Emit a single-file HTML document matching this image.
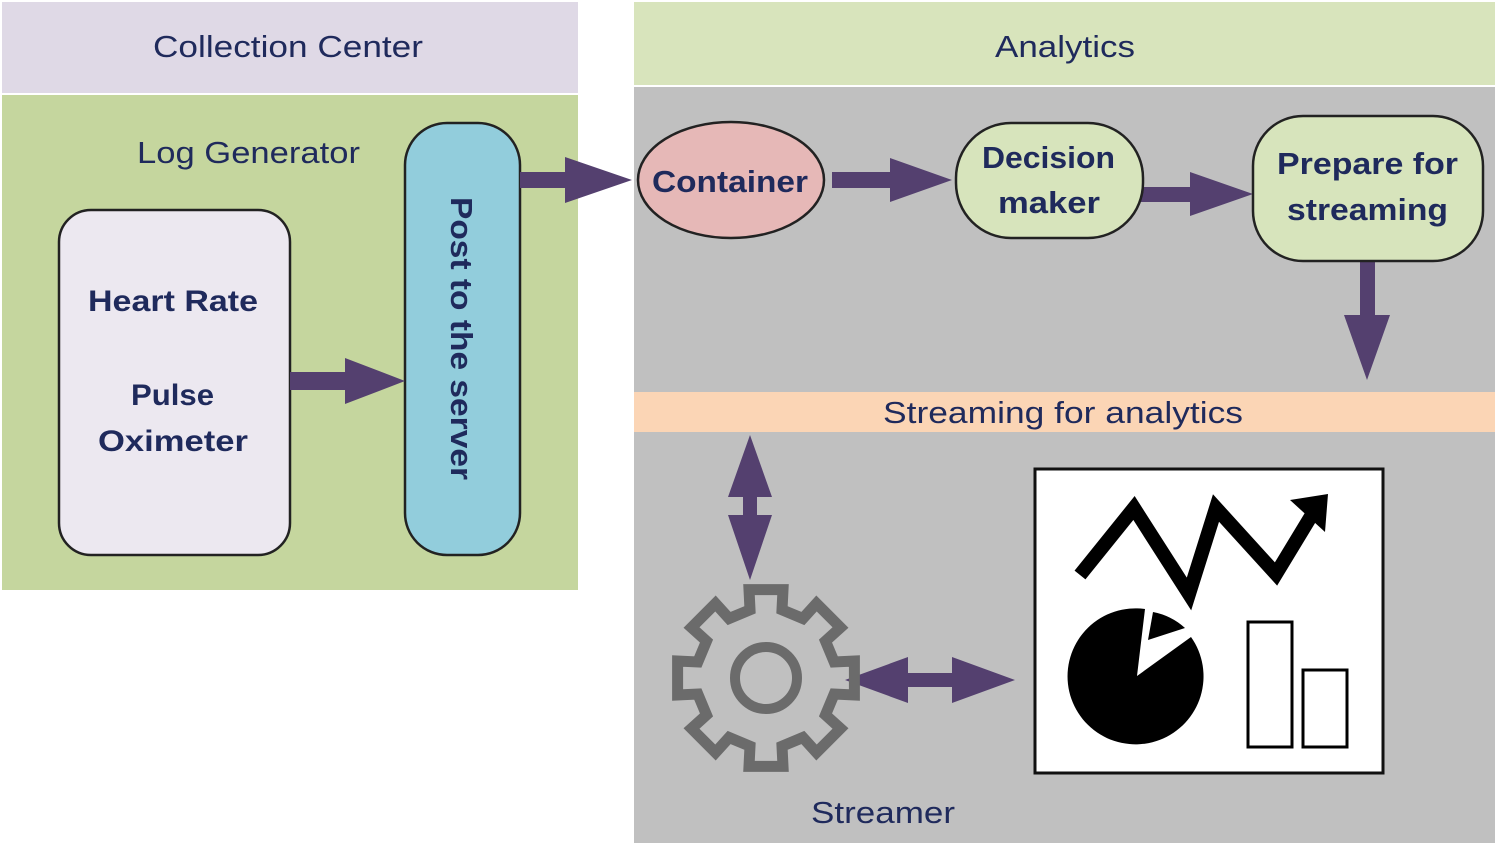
<!DOCTYPE html>
<html><head><meta charset="utf-8"><style>
html,body{margin:0;padding:0;background:#fff;}
svg{display:block;}
text{font-family:"Liberation Sans",sans-serif;fill:#1f2a5c;}
</style></head><body>
<svg id="s" width="1499" height="847" viewBox="0 0 1499 847" xmlns="http://www.w3.org/2000/svg">
<rect x="0" y="0" width="1499" height="847" fill="#fff"/>
<rect x="2" y="2" width="576" height="91" fill="#dfd9e6"/>
<rect x="2" y="95" width="576" height="495" fill="#c5d69e"/>
<rect x="634" y="2" width="861" height="83" fill="#d8e4bc"/>
<rect x="634" y="87" width="861" height="756" fill="#c0c0c0"/>
<rect x="634" y="392" width="861" height="40" fill="#fbd5b5"/>

<g lengthAdjust="spacingAndGlyphs">
<text x="153" y="57" font-size="31" textLength="270" lengthAdjust="spacingAndGlyphs">Collection Center</text>
<text x="995" y="57" font-size="31" textLength="140" lengthAdjust="spacingAndGlyphs">Analytics</text>
<text x="137" y="163" font-size="31" textLength="223" lengthAdjust="spacingAndGlyphs">Log Generator</text>
<text x="883" y="423" font-size="31" textLength="360" lengthAdjust="spacingAndGlyphs">Streaming for analytics</text>
<text x="811" y="823" font-size="31" textLength="144" lengthAdjust="spacingAndGlyphs">Streamer</text>
</g>

<rect x="59" y="210" width="231" height="345" rx="32" fill="#ece8f0" stroke="#222" stroke-width="2.5"/>
<g font-weight="bold" font-size="30">
<text x="88" y="311" textLength="170" lengthAdjust="spacingAndGlyphs">Heart Rate</text>
<text x="131" y="405" textLength="83" lengthAdjust="spacingAndGlyphs">Pulse</text>
<text x="98" y="451" textLength="150" lengthAdjust="spacingAndGlyphs">Oximeter</text>
</g>
<rect x="405" y="123" width="115" height="432" rx="42" fill="#92cddc" stroke="#222" stroke-width="2.5"/>
<text transform="translate(451,197) rotate(90)" font-size="31" font-weight="bold" textLength="283" lengthAdjust="spacingAndGlyphs">Post to the server</text>

<g fill="#54406f">
<polygon points="290,372 345,372 345,358 405,381 345,404 345,390 290,390"/>
<polygon points="520,172 565,172 565,157 632,180 565,203 565,188 520,188"/>
<polygon points="832,172 890,172 890,158 952,180 890,202 890,188 832,188"/>
<polygon points="1140,187 1190,187 1190,172 1253,194 1190,216 1190,202 1140,202"/>
<polygon points="1360,262 1375,262 1375,315 1390,315 1367,380 1344,315 1360,315"/>
<polygon points="750,435 772,497 757,497 757,515 772,515 750,580 728,515 743,515 743,497 728,497"/>
<polygon points="845,680 908,657 908,673 952,673 952,657 1015,680 952,703 952,687 908,687 908,703"/>
</g>

<ellipse cx="731" cy="180" rx="93" ry="58" fill="#e6b8b7" stroke="#222" stroke-width="2.5"/>
<g font-weight="bold" font-size="31">
<text x="652" y="192" textLength="156" lengthAdjust="spacingAndGlyphs">Container</text>
<text x="982" y="168" textLength="133" lengthAdjust="spacingAndGlyphs">Decision</text>
<text x="998" y="213" textLength="102" lengthAdjust="spacingAndGlyphs">maker</text>
<text x="1277" y="174" textLength="181" lengthAdjust="spacingAndGlyphs" opacity="0"> </text>
</g>
<rect x="956" y="123" width="187" height="115" rx="55" fill="#d7e4bc" stroke="#222" stroke-width="2.5"/>
<g font-weight="bold" font-size="31">
<text x="982" y="168" textLength="133" lengthAdjust="spacingAndGlyphs">Decision</text>
<text x="998" y="213" textLength="102" lengthAdjust="spacingAndGlyphs">maker</text>
</g>
<rect x="1253" y="116" width="230" height="145" rx="50" fill="#d7e4bc" stroke="#222" stroke-width="2.5"/>
<g font-weight="bold" font-size="31">
<text x="1277" y="174" textLength="181" lengthAdjust="spacingAndGlyphs">Prepare for</text>
<text x="1287" y="220" textLength="161" lengthAdjust="spacingAndGlyphs">streaming</text>
</g>

<path id="gear" fill="none" stroke="#6b6b6b" stroke-width="11" stroke-linejoin="miter"/>
<circle cx="766" cy="678" r="31" fill="none" stroke="#6b6b6b" stroke-width="10"/>

<rect x="1035" y="469" width="348" height="304" fill="#fff" stroke="#111" stroke-width="3"/>
<polyline points="1080,575 1134,508 1189,594 1216,508 1276,574 1316,508" fill="none" stroke="#000" stroke-width="14" stroke-linejoin="miter"/>
<polygon points="1290,500 1328,494 1325,532" fill="#000"/>
<path d="M1137,676 L1145,609 A68,68 0 1 0 1191,637 Z" fill="#000"/>
<path d="M1148,640 L1153,612 A66,66 0 0 1 1185,628 Z" fill="#000"/>
<rect x="1248" y="622" width="44" height="125" fill="#fff" stroke="#000" stroke-width="3"/>
<rect x="1303" y="670" width="44" height="77" fill="#fff" stroke="#000" stroke-width="3"/>
</svg>
<script>
(function(){
var cx=766,cy=678,ro=90,ri=70,n=8,d="";
for(var i=0;i<n;i++){
 var a=i*2*Math.PI/n - Math.PI/2;
 var w=0.19,g=0.23;
 var pts=[[ri,a-g],[ro,a-w],[ro,a+w],[ri,a+g]];
 for(var j=0;j<4;j++){
  var x=cx+pts[j][0]*Math.cos(pts[j][1]),y=cy+pts[j][0]*Math.sin(pts[j][1]);
  d+=(i==0&&j==0?"M":"L")+x.toFixed(1)+","+y.toFixed(1)+" ";
 }
}
d+="Z";
document.getElementById("gear").setAttribute("d",d);
})();
</script>
</body></html>
